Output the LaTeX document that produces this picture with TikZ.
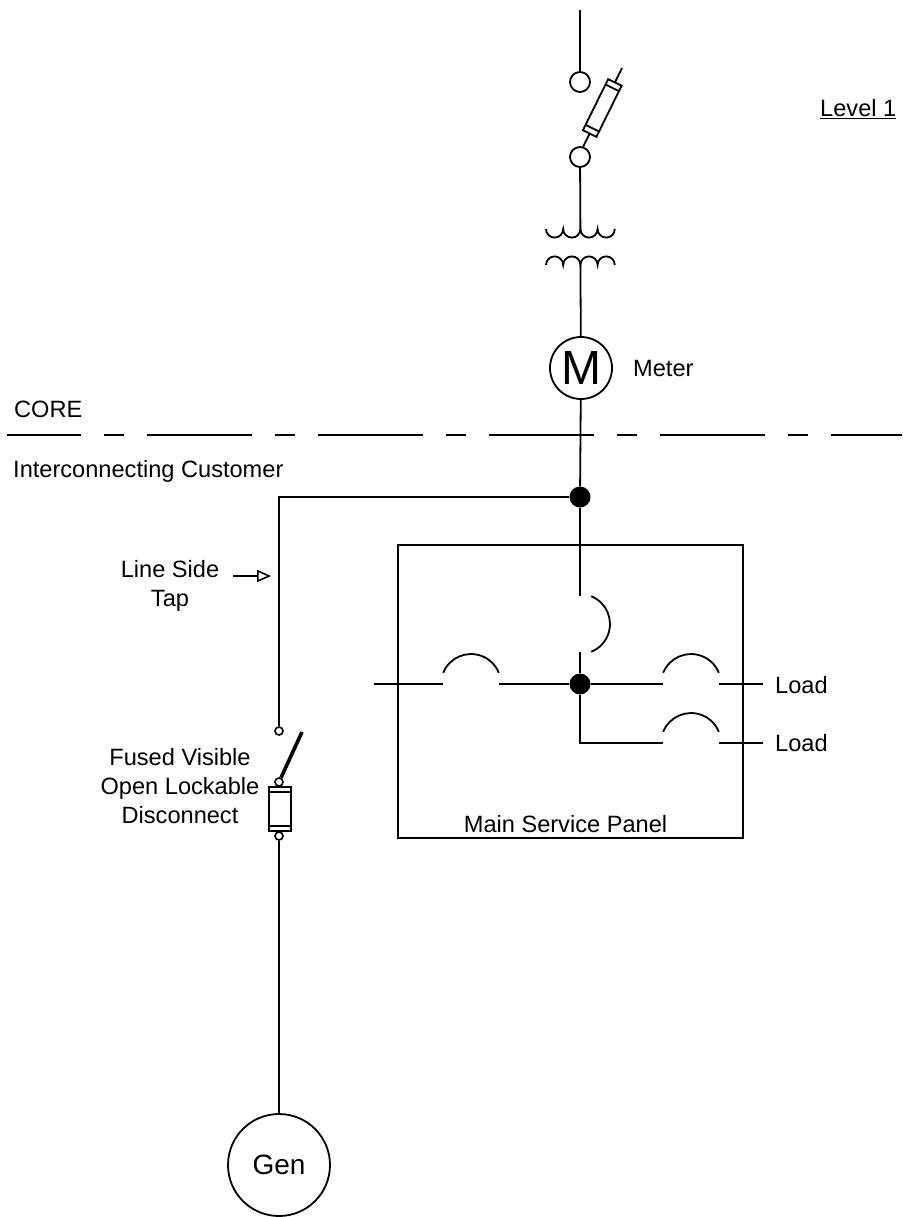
\documentclass[tikz,border=0pt]{standalone}
\usepackage{fontspec}
\setmainfont{Liberation Sans}
\usetikzlibrary{arrows.meta, positioning, calc}
\tikzset{
	wire/.style={draw, line width=1.8pt},
	terminal/.style={circle, draw, line width=1.8pt, inner sep=0pt, minimum size=20pt},
	smallterm/.style={circle, draw, line width=1.6pt, inner sep=0pt, minimum size=8pt},
	junction/.style={circle, fill, inner sep=0pt, minimum size=21pt},
	lbl/.style={font=\fontsize{23.6}{29}\selectfont, inner sep=0pt}
}

\begin{document}
\begin{tikzpicture}[
	x=1pt, y=-1pt,
	>=Stealth,
	% --- Style Definitions ---
	coreline/.style={line width=1.8pt, dash pattern=on 105pt off 23pt on 20pt off 23pt, dash phase=31pt},
	blade/.style={line width=3.6pt},
	pointer/.style={line width=1.5pt, -{Triangle[open, length=14pt, width=12pt]}},
	fusebox/.style={draw, fill=white, line width=1.8pt, minimum width=22pt, minimum height=44pt, inner sep=0pt},
	panel/.style={draw, line width=1.8pt, minimum width=345pt, minimum height=293pt, inner sep=0pt},
	bigcircle/.style={circle, draw, line width=1.8pt, inner sep=0pt},
	]
	
	% --- Parameters ---
	\def\Rb{30}         % breaker arc radius
	\def\Rc{8.6}        % transformer coil radius
	
	\useasboundingbox (0,0) rectangle (902,1217);
	
	% --- Utility Side ---
	\coordinate (feed) at (580,10);
	\node[terminal] (ctop) at (580,82) {};
	\node[terminal] (cbot) at (580,157) {};
	\draw[wire] (feed) -- (ctop);
	% fused cutout
	\begin{scope}[shift={(583,147)}, rotate=63.7]
		\draw[wire] (0,0) -- (15,0);
		\draw[wire] (15,-7.5) rectangle (72,7.5);
		\draw[wire] (21,-7.5) -- (21,7.5);
		\draw[wire] (66,-7.5) -- (66,7.5);
		\draw[wire] (72,0) -- (88,0);
	\end{scope}
	
	% transformer
	\coordinate (xpri) at (580.4,229);
	\coordinate (xsec) at (580.4,265);
	\draw[wire] (cbot) -- (xpri);
	\draw[wire] (546,229) \foreach \k in {1,...,4} { arc[start angle=180, end angle=0, radius=\Rc] };
	\draw[wire] (546,265) \foreach \k in {1,...,4} { arc[start angle=180, end angle=360, radius=\Rc] };
	
	% meter
	\node[bigcircle, minimum size=62pt, font=\fontsize{48}{48}\selectfont] (meter) at (581,368) {M};
	\node[lbl, anchor=base west] (meterlbl) at (633,376) {Meter};
	\draw[wire] (xsec) -- (meter);
	
	\node[lbl, anchor=base west] (lvl) at (820,117) {\underline{Level 1}};
	
	% --- Ownership Boundary ---
	\coordinate (bndw) at (7,435);
	\coordinate (bnde) at (902,435);
	\draw[coreline] (bndw) -- (bnde);
	\node[lbl, anchor=base west] (corelbl) at (14,417) {CORE};
	\node[lbl, anchor=base west] (custlbl) at (13,477) {Interconnecting Customer};
	
	% --- Line Side Tap ---
	\node[junction] (jtap) at (580,497) {};
	\draw[wire] (meter) -- (jtap);
	\coordinate (tapcorner) at (279,497);
	\node[smallterm] (swtop) at (279,731) {};
	\draw[wire] (jtap) -- (tapcorner) -- (swtop);
	\node[lbl, align=center] (taplbl) at (170,586) {Line Side\\Tap};
	\coordinate (tapptr) at (233,576);
	\coordinate (taphead) at (271,576);
	\draw[pointer] (tapptr) -- (taphead);
	
	% --- Disconnect & Generator ---
	\node[smallterm] (swbot) at (279,782) {};
	\coordinate (bladetip) at (302,732);
	\draw[blade] (swbot.65) -- (bladetip);
	\node[fusebox] (dfuse) at (280,809) {};
	\draw[wire] ($(dfuse.north west)+(0,6)$) -- ($(dfuse.north east)+(0,6)$);
	\draw[wire] ($(dfuse.south west)+(0,-6)$) -- ($(dfuse.south east)+(0,-6)$);
	\node[smallterm] (fbot) at (279,836) {};
	\node[lbl, align=center] (dislbl) at (180,786) {Fused Visible\\Open Lockable\\Disconnect};
	\node[bigcircle, minimum size=102pt, font=\fontsize{28}{28}\selectfont] (gen) at (279,1165) {Gen};
	\draw[wire] (fbot) -- (gen);
	
	% --- Main Service Panel ---
	\node[panel] (panel) at (570.5,691.5) {};
	\node[lbl, anchor=base] (panellbl) at (565.5,832) {Main Service Panel};
	
	% main breaker
	\coordinate (mbtop) at (580,596);
	\coordinate (mbbot) at (580,652);
	\node[junction] (jbus) at (580,684) {};
	\draw[wire] (jtap) -- (mbtop);
	\draw[wire] (591.2,596.2) arc[start angle=-68, end angle=68, radius=\Rb];
	\draw[wire] (mbbot) -- (jbus);
	
	% branch breakers
	\foreach \bx/\by/\bn in {471/684/bkin, 691/684/bkla, 691/743/bklb} {
		\coordinate (\bn-a) at (\bx-27.8,\by);
		\coordinate (\bn-b) at (\bx+27.8,\by);
		\draw[wire] (\bx-27.8,\by-11.2) arc[start angle=202, end angle=338, radius=\Rb];
	}
	\coordinate (busw) at (374,684);
	\coordinate (branch) at (580,743);
	\coordinate (loadaend) at (763,684);
	\coordinate (loadbend) at (763,743);
	\draw[wire] (busw) -- (bkin-a);
	\draw[wire] (bkin-b) -- (jbus) -- (bkla-a);
	\draw[wire] (jbus) -- (branch) -- (bklb-a);
	\draw[wire] (bkla-b) -- (loadaend);
	\draw[wire] (bklb-b) -- (loadbend);
	\node[lbl, anchor=base west] (loada) at (775,693) {Load};
	\node[lbl, anchor=base west] (loadb) at (775,751) {Load};
	
\end{tikzpicture}
\end{document}
